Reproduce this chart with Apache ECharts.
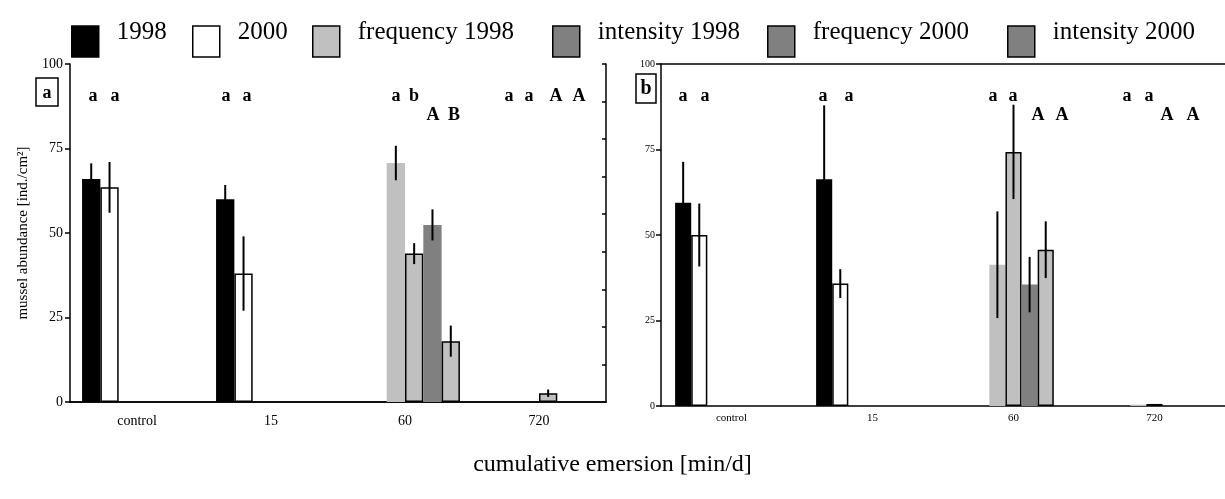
<!DOCTYPE html>
<html><head><meta charset="utf-8">
<script src="https://cdn.jsdelivr.net/npm/echarts@6/dist/echarts.min.js"></script>
<style>html,body{margin:0;padding:0;background:#fff}#c{width:1225px;height:499px}</style>
</head><body><div id="c"></div>
<script>
// ---------- data ----------
const categories = ['control', '15', '60', '720'];
const seriesNames = ['1998', '2000', 'frequency 1998', 'frequency 2000', 'intensity 1998', 'intensity 2000'];
const legendOrder = ['1998', '2000', 'frequency 1998', 'intensity 1998', 'frequency 2000', 'intensity 2000'];
const yTickValues = [0, 25, 50, 75, 100];

// panel a
const a1998 = [66, 60, null, null];
const a1998Err = [4.6, 4.2, null, null];
const a2000 = [63.5, 38, null, null];
const a2000Err = [7.5, 11, null, null];
const aFreq1998 = [null, null, 70.7, null];
const aFreq1998Err = [null, null, 5.1, null];
const aFreq2000 = [null, null, 43.9, 2.6];
const aFreq2000Err = [null, null, 3.1, 1.1];
const aInt1998 = [null, null, 52.4, null];
const aInt1998Err = [null, null, 4.6, null];
const aInt2000 = [null, null, 18, null];
const aInt2000Err = [null, null, 4.6, null];

// panel b
const b1998 = [59.4, 66.3, null, null];
const b1998Err = [12, 21.6, null, null];
const b2000 = [50, 35.8, null, null];
const b2000Err = [9.2, 4.2, null, null];
const bFreq1998 = [null, null, 41.3, 0.4];
const bFreq1998Err = [null, null, 15.6, null];
const bFreq2000 = [null, null, 74.3, 0.6];
const bFreq2000Err = [null, null, 13.8, null];
const bInt1998 = [null, null, 35.5, null];
const bInt1998Err = [null, null, 8.1, null];
const bInt2000 = [null, null, 45.7, null];
const bInt2000Err = [null, null, 8.3, null];

// significance letters
const lettersARow1 = ['a', 'a', 'a', 'a', 'a', 'b', 'a', 'a', 'A', 'A'];
const lettersARow2 = ['A', 'B'];
const lettersBRow1 = ['a', 'a', 'a', 'a', 'a', 'a', 'a', 'a'];
const lettersBRow2 = ['A', 'A', 'A', 'A'];

// ---------- build ----------
const FONT = 'Liberation Serif';
const panelA = [a1998, a2000, aFreq1998, aFreq2000, aInt1998, aInt2000];
const panelAErr = [a1998Err, a2000Err, aFreq1998Err, aFreq2000Err, aInt1998Err, aInt2000Err];
const panelB = [b1998, b2000, bFreq1998, bFreq2000, bInt1998, bInt2000];
const panelBErr = [b1998Err, b2000Err, bFreq1998Err, bFreq2000Err, bInt1998Err, bInt2000Err];

const barStyles = [
  {color: '#000000'},
  {color: '#ffffff', borderColor: '#000', borderWidth: 1.5},
  {color: '#c0c0c0'},
  {color: '#c0c0c0', borderColor: '#000', borderWidth: 1.5},
  {color: '#808080'},
  {color: '#c0c0c0', borderColor: '#000', borderWidth: 1.5}
];
const legendStyles = {
  '1998': {color: '#000', borderColor: '#000', borderWidth: 1.5},
  '2000': {color: '#fff', borderColor: '#000', borderWidth: 1.5},
  'frequency 1998': {color: '#c0c0c0', borderColor: '#000', borderWidth: 1.5},
  'intensity 1998': {color: '#808080', borderColor: '#000', borderWidth: 1.5},
  'frequency 2000': {color: '#808080', borderColor: '#000', borderWidth: 1.5},
  'intensity 2000': {color: '#808080', borderColor: '#000', borderWidth: 1.5}
};
const legendLeft = [71, 192, 312, 552, 767, 1007];

function errData(vals, errs) {
  const out = [];
  vals.forEach((arr, s) => arr.forEach((v, i) => {
    const e = errs[s][i];
    if (v != null && e != null) out.push([i, v - e, v + e, s]);
  }));
  return out;
}
function errRender(nSlots, gap) {
  return function (params, api) {
    const i = api.value(0);
    const lo = api.coord([i, api.value(1)]);
    const hi = api.coord([i, api.value(2)]);
    const band = api.size([1, 0])[0];
    const bw = band * (1 - gap) / nSlots;
    const x = lo[0] - band * (1 - gap) / 2 + (api.value(3) + 0.5) * bw;
    return {type: 'line', shape: {x1: x, y1: lo[1], x2: x, y2: hi[1]},
            style: {stroke: '#000', lineWidth: 2}};
  };
}

const GAP_A = 0.18, GAP_B = 0.20;
const series = [];
panelA.forEach((d, s) => series.push({
  type: 'bar', name: seriesNames[s], xAxisIndex: 0, yAxisIndex: 0, data: d,
  barGap: '0%', barCategoryGap: (GAP_A * 100) + '%', itemStyle: barStyles[s]
}));
panelB.forEach((d, s) => series.push({
  type: 'bar', name: seriesNames[s], xAxisIndex: 2, yAxisIndex: 2, data: d,
  barGap: '0%', barCategoryGap: (GAP_B * 100) + '%', itemStyle: barStyles[s]
}));
series.push({type: 'bar', name: 'spacer', xAxisIndex: 2, yAxisIndex: 2,
  data: categories.map(() => null), barGap: '0%', barCategoryGap: (GAP_B * 100) + '%'});
series.push({type: 'custom', xAxisIndex: 0, yAxisIndex: 0, z: 10, silent: true,
  renderItem: errRender(6, GAP_A), encode: {x: 0, y: [1, 2]}, data: errData(panelA, panelAErr)});
series.push({type: 'custom', xAxisIndex: 2, yAxisIndex: 2, z: 10, silent: true,
  renderItem: errRender(7, GAP_B), encode: {x: 0, y: [1, 2]}, data: errData(panelB, panelBErr)});

const axisLine = {show: true, lineStyle: {color: '#000', width: 1.5}};
const legends = legendOrder.map((n, k) => ({
  left: legendLeft[k] - 5, top: 15, itemWidth: 27, itemHeight: 31, selectedMode: false,
  data: [{name: n, icon: 'rect', itemStyle: legendStyles[n]}],
  formatter: '{t|{name}}',
  textStyle: {padding: [0, 0, 0, 13],
    rich: {t: {fontFamily: FONT, fontSize: 25, color: '#000', padding: [0, 0, 18, 0]}}}
}));

function letterTexts(list, xs, y) {
  return list.map((t, k) => ({type: 'text', x: xs[k], y: y,
    style: {text: t, font: 'bold 18px "Liberation Serif"', fill: '#000', align: 'center', verticalAlign: 'middle'}}));
}
const graphics = [].concat(
  letterTexts(lettersARow1, [93, 115, 226, 247, 396, 414, 509, 529, 556, 579], 96),
  letterTexts(lettersARow2, [433, 454], 115),
  letterTexts(lettersBRow1, [683, 705, 823, 849, 993, 1013, 1127, 1149], 96),
  letterTexts(lettersBRow2, [1038, 1062, 1167, 1193], 115),
  [
    {type: 'rect', shape: {x: 36, y: 78, width: 22, height: 28}, style: {fill: 'none', stroke: '#000', lineWidth: 1.5}},
    {type: 'text', x: 47, y: 93, style: {text: 'a', font: 'bold 18px "Liberation Serif"', fill: '#000', align: 'center', verticalAlign: 'middle'}},
    {type: 'rect', shape: {x: 636, y: 74, width: 20, height: 29}, style: {fill: 'none', stroke: '#000', lineWidth: 1.5}},
    {type: 'text', x: 646, y: 89, style: {text: 'b', font: 'bold 20px "Liberation Serif"', fill: '#000', align: 'center', verticalAlign: 'middle'}}
  ]
);

const option = {
  animation: false,
  backgroundColor: '#fff',
  title: {text: 'cumulative emersion [min/d]', left: 'center', top: 448,
    textStyle: {fontFamily: FONT, fontSize: 24, fontWeight: 'normal', color: '#000'}},
  legend: legends,
  grid: [
    {left: 70, top: 64, width: 536, height: 338},
    {left: 661, top: 64, width: 572, height: 342}
  ],
  xAxis: [
    {type: 'category', gridIndex: 0, data: categories, axisLine: axisLine,
     axisTick: {inside: true, length: 3, lineStyle: {color: '#000', width: 1.5}},
     axisLabel: {fontFamily: FONT, fontSize: 14, color: '#000', margin: 12}},
    {type: 'category', gridIndex: 0, position: 'top', data: categories, axisLine: axisLine,
     axisTick: {inside: true, length: 3, lineStyle: {color: '#000', width: 1.5}}, axisLabel: {show: false}},
    {type: 'category', gridIndex: 1, data: categories, axisLine: axisLine,
     axisTick: {inside: true, length: 3, lineStyle: {color: '#000', width: 1.5}},
     axisLabel: {fontFamily: FONT, fontSize: 11, color: '#000', margin: 7}},
    {type: 'category', gridIndex: 1, position: 'top', data: categories, axisLine: axisLine,
     axisTick: {inside: true, length: 3, lineStyle: {color: '#000', width: 1.5}}, axisLabel: {show: false}}
  ],
  yAxis: [
    {type: 'value', gridIndex: 0, min: yTickValues[0], max: yTickValues[yTickValues.length - 1], interval: 25,
     axisLine: axisLine, axisTick: {show: true, length: 5, lineStyle: {color: '#000', width: 1.5}},
     splitLine: {show: false},
     axisLabel: {fontFamily: FONT, fontSize: 14, color: '#000', margin: 7},
     name: 'mussel abundance [ind./cm²]', nameLocation: 'middle', nameGap: 39,
     nameTextStyle: {fontFamily: FONT, fontSize: 15, color: '#000'}},
    {type: 'value', gridIndex: 0, position: 'right', min: 0, max: 9, interval: 1,
     axisLine: axisLine, axisTick: {show: true, inside: true, length: 4, lineStyle: {color: '#000', width: 1.5}},
     splitLine: {show: false}, axisLabel: {show: false}},
    {type: 'value', gridIndex: 1, min: yTickValues[0], max: yTickValues[yTickValues.length - 1], interval: 25,
     axisLine: axisLine, axisTick: {show: true, length: 5, lineStyle: {color: '#000', width: 1.5}},
     splitLine: {show: false},
     axisLabel: {fontFamily: FONT, fontSize: 10, color: '#000', margin: 6}}
  ],
  series: series,
  graphic: graphics
};
echarts.init(document.getElementById('c'), null, {renderer: 'canvas'}).setOption(option);
</script>
</body></html>
